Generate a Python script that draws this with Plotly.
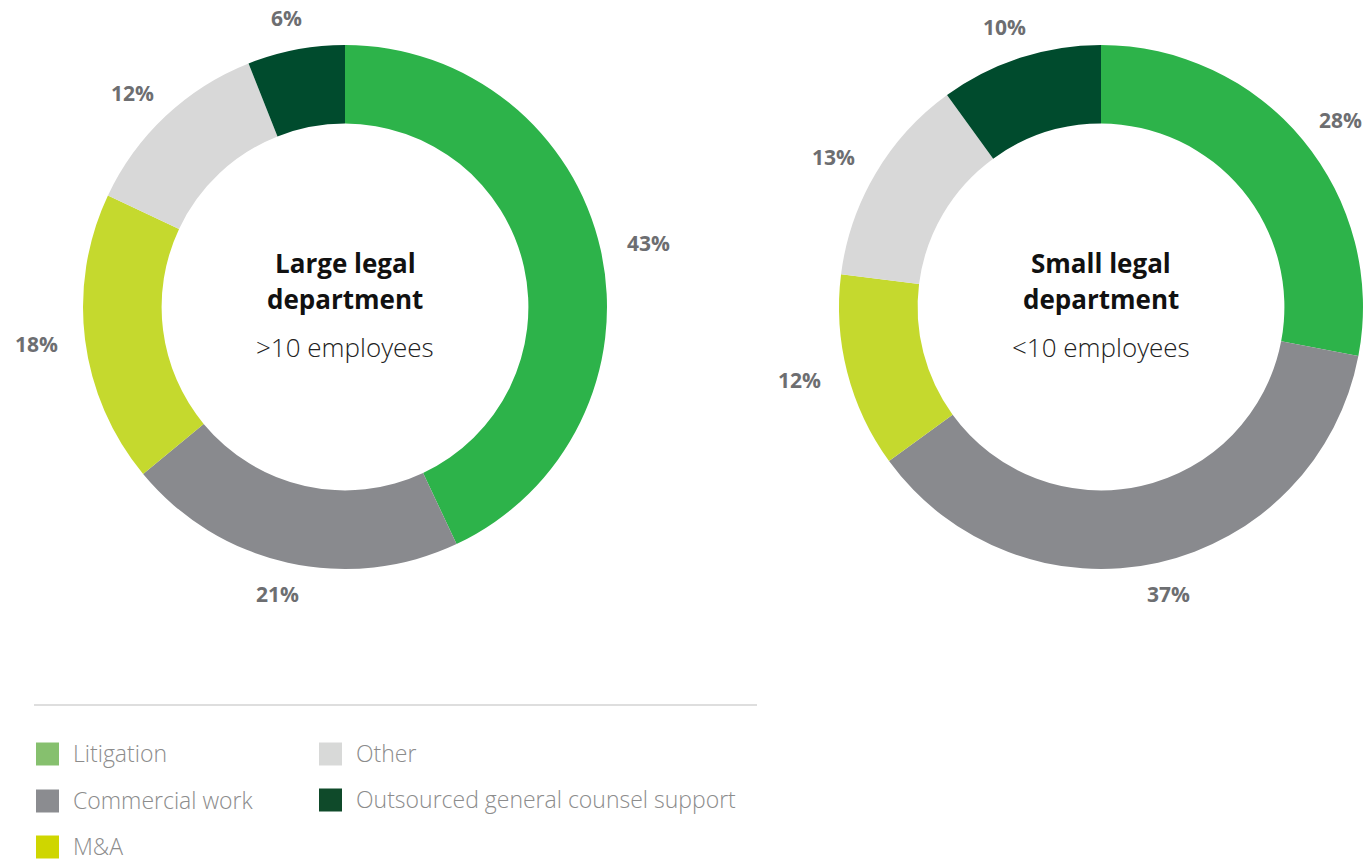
import numpy as np
import plotly.graph_objects as go

categories = ["Litigation", "Commercial work", "M&A", "Other", "Outsourced general counsel support"]
large_values = [43, 21, 18, 12, 6]
small_values = [28, 37, 12, 13, 10]
slice_colors = ["#2DB34A", "#898A8E", "#C5D92E", "#D8D8D8", "#004B2D"]
legend_colors = ["#86C06E", "#8B8C90", "#CFD600", "#D8D9D8", "#0F4A2A"]
chart_titles = [("Large legal", "department", ">10 employees"),
                ("Small legal", "department", "<10 employees")]

W, H = 1366, 862
FONT = "Open Sans"

# pie geometry (pixels)
centers = [(345, 307), (1101, 307)]
R = 262
label_rx, label_ry = 311, 294

fig = go.Figure()
annotations = []
shapes = []


def ann(x, y, text, size, color, anchor="center", weight=None):
    f = dict(family=FONT, size=size, color=color)
    if weight:
        f["weight"] = weight
    return dict(x=x / W, y=1 - y / H, xref="paper", yref="paper", text=text,
                showarrow=False, xanchor=anchor, yanchor="middle", font=f)


for (cx, cy), vals, (t1, t2, t3) in zip(centers, [large_values, small_values], chart_titles):
    x0, x1 = (cx - R) / W, (cx + R) / W
    y0, y1 = 1 - (cy + R) / H, 1 - (cy - R) / H
    fig.add_trace(go.Pie(
        labels=categories, values=vals, hole=0.70, sort=False,
        direction="clockwise", rotation=0,
        marker=dict(colors=slice_colors, line=dict(width=0)),
        textinfo="none", hoverinfo="label+percent", showlegend=False,
        domain=dict(x=[x0, x1], y=[y0, y1]),
    ))
    # percentage labels around the ring
    v = np.array(vals, dtype=float)
    cum = np.cumsum(v) - v / 2
    ang = cum / v.sum() * 2 * np.pi
    for val, a in zip(vals, ang):
        px = cx + label_rx * np.sin(a)
        py = cy - label_ry * np.cos(a)
        annotations.append(ann(px, py, f"<b>{val}%</b>", 21, "#6D6E71"))
    annotations.append(ann(cx, 263, f"<b>{t1}</b>", 26, "#111111"))
    annotations.append(ann(cx, 299, f"<b>{t2}</b>", 26, "#111111"))
    annotations.append(ann(cx, 347, t3, 26, "#222222", weight=300))

# divider line
shapes.append(dict(type="line", xref="paper", yref="paper",
                   x0=34 / W, x1=757 / W, y0=1 - 705 / H, y1=1 - 705 / H,
                   line=dict(color="#BDBDBD", width=1)))

# custom legend (two columns)
legend_pos = [(36, 754), (36, 801), (36, 847), (319, 754), (319, 800)]
for name, col, (lx, ly) in zip(categories, legend_colors, legend_pos):
    shapes.append(dict(type="rect", xref="paper", yref="paper",
                       x0=lx / W, x1=(lx + 23) / W,
                       y0=1 - (ly + 11.5) / H, y1=1 - (ly - 11.5) / H,
                       fillcolor=col, line=dict(width=0)))
    annotations.append(ann(lx + 35, ly - 1, name, 23, "#8C8C8C", anchor="left", weight=300))

fig.update_layout(
    width=W, height=H, margin=dict(l=0, r=0, t=0, b=0),
    paper_bgcolor="white", plot_bgcolor="white",
    annotations=annotations, shapes=shapes, showlegend=False,
)

fig.write_html("out.html")
